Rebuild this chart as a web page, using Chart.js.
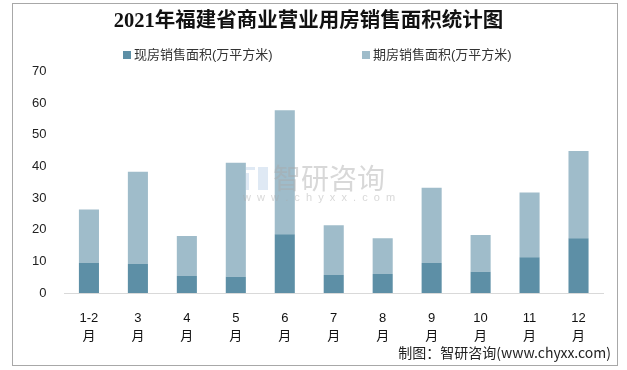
<!DOCTYPE html>
<html>
<head>
<meta charset="utf-8">
<script src="https://cdn.jsdelivr.net/npm/chart.js@4.4.0/dist/chart.umd.min.js"></script>
<style>
  html, body { margin: 0; padding: 0; background: #fff; }
  #wrap { width: 627px; height: 370px; position: relative; }
</style>
</head>
<body>
<div id="wrap"><canvas id="chart" width="627" height="370"></canvas></div>
<script>
// data
const months = [['1-2', '月'], ['3', '月'], ['4', '月'], ['5', '月'], ['6', '月'], ['7', '月'], ['8', '月'], ['9', '月'], ['10', '月'], ['11', '月'], ['12', '月']];
const spotArea = [9.5, 9.2, 5.4, 5.1, 18.6, 5.7, 6.0, 9.5, 6.7, 11.3, 17.3];
const futureArea = [16.9, 29.1, 12.6, 36.1, 39.2, 15.7, 11.3, 23.8, 11.6, 20.5, 27.6];
const seriesNames = ['现房销售面积(万平方米)', '期房销售面积(万平方米)'];
const seriesColors = ['#5d8fa6', '#9fbcca'];
const yTicks = [0, 10, 20, 30, 40, 50, 60, 70];

const sansFont = "'Liberation Sans', 'Noto Sans CJK SC', sans-serif";

// white background, outer frame, watermark, legend and source line
const decor = {
    id: 'decor',
    beforeDraw(chart) {
        const ctx = chart.ctx;
        ctx.save();
        ctx.fillStyle = '#fff';
        ctx.fillRect(0, 0, chart.width, chart.height);
        ctx.strokeStyle = '#a8a8a8';
        ctx.lineWidth = 1;
        ctx.strokeRect(12.5, 3.5, 605, 362);
        ctx.restore();
    },
    afterDatasetsDraw(chart) {
        // watermark sits over the bars
        const ctx = chart.ctx;
        ctx.save();
        ctx.globalAlpha = 0.45;
        ctx.fillStyle = '#b9cfe6';
        ctx.fillRect(246, 167, 9, 3);
        ctx.fillRect(246, 173, 3, 17);
        ctx.fillRect(258, 167, 10, 23);
        ctx.fillStyle = '#a8a8a8';
        ctx.font = "28px 'Noto Sans CJK SC', sans-serif";
        ctx.textBaseline = 'middle';
        ctx.textAlign = 'left';
        ctx.fillText('智研咨询', 273, 178);
        ctx.font = "11px 'Liberation Sans', sans-serif";
        ctx.fillText('w  w  w  .  c  h  y  x  x  .  c  o  m', 243, 198);
        ctx.restore();
    },
    afterDraw(chart) {
        const ctx = chart.ctx;
        ctx.save();
        ctx.font = '13px ' + sansFont;
        ctx.textBaseline = 'middle';
        ctx.textAlign = 'left';
        const legendX = [123, 362];
        seriesNames.forEach((name, i) => {
            ctx.fillStyle = seriesColors[i];
            ctx.fillRect(legendX[i], 51, 8, 8);
            ctx.fillStyle = '#333';
            ctx.fillText(name, legendX[i] + 11, 55);
        });
        ctx.textAlign = 'right';
        ctx.fillStyle = '#222';
        ctx.font = "14px 'Noto Sans CJK SC', sans-serif";
        ctx.fillText('制图：智研咨询(www.chyxx.com)', 611, 353);
        ctx.restore();
    }
};

new Chart(document.getElementById('chart').getContext('2d'), {
    type: 'bar',
    data: {
        labels: months,
        datasets: [
            {
                label: seriesNames[0],
                data: spotArea,
                backgroundColor: seriesColors[0],
                barPercentage: 0.41,
                categoryPercentage: 1
            },
            {
                label: seriesNames[1],
                data: futureArea,
                backgroundColor: seriesColors[1],
                barPercentage: 0.41,
                categoryPercentage: 1
            }
        ]
    },
    options: {
        responsive: false,
        animation: false,
        layout: { padding: { left: 14, right: 24, top: 0, bottom: 8.6 } },
        plugins: {
            legend: { display: false },
            tooltip: { enabled: false },
            title: {
                display: true,
                text: '2021年福建省商业营业用房销售面积统计图',
                color: '#111',
                font: { family: "'Liberation Serif', 'Noto Sans CJK SC', serif", size: 20.5, weight: 'bold', lineHeight: 1.2 },
                padding: { top: 9, bottom: 38 }
            }
        },
        scales: {
            x: {
                stacked: true,
                grid: { display: false, drawTicks: false },
                border: { display: true, color: '#d9d9d9', width: 1 },
                ticks: {
                    color: '#111',
                    padding: 16,
                    maxRotation: 0,
                    font: { family: sansFont, size: 13, lineHeight: 1.4 }
                }
            },
            y: {
                stacked: true,
                min: 0,
                max: 70,
                grid: { display: false, drawTicks: false },
                border: { display: false },
                afterBuildTicks(axis) { axis.ticks = yTicks.map(v => ({ value: v })); },
                ticks: {
                    color: '#222',
                    padding: 18,
                    font: { family: sansFont, size: 13 }
                }
            }
        }
    },
    plugins: [decor]
});
</script>
</body>
</html>
